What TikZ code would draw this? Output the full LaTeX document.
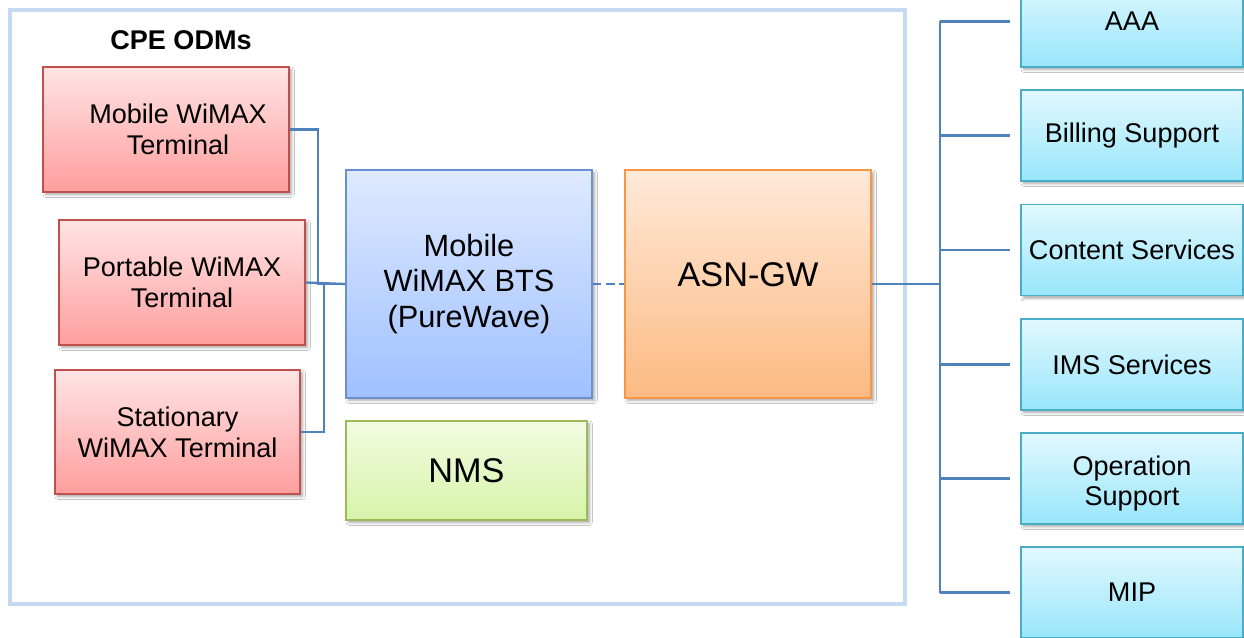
\documentclass[tikz,border=0pt]{standalone}
\usepackage{fontspec}
\setmainfont{Liberation Sans}
\usetikzlibrary{shadows.blur,positioning}

\definecolor{FrameBlue}{RGB}{198,217,240}
\definecolor{LinkBlue}{RGB}{79,129,189}
\definecolor{TermLine}{RGB}{192,80,77}
\definecolor{BtsLine}{RGB}{105,145,210}
\definecolor{NmsLine}{RGB}{155,187,89}
\definecolor{GwLine}{RGB}{247,150,70}
\definecolor{SvcLine}{RGB}{75,172,198}

\tikzset{
  basebox/.style={draw, line width=0.8pt, align=center,
    font=\fontsize{15.4}{17.5}\selectfont,
    blur shadow={shadow xshift=1.5pt, shadow yshift=-1.5pt,
      shadow blur radius=1.5pt, shadow opacity=35, shadow blur steps=5}},
  termbox/.style={basebox, TermLine, text=black,
    top color={rgb,255:red,255;green,228;blue,228},
    bottom color={rgb,255:red,255;green,158;blue,158},
    minimum width=4.92cm, minimum height=2.5cm},
  btsbox/.style={basebox, BtsLine, text=black,
    font=\fontsize{17.5}{20}\selectfont,
    top color={rgb,255:red,222;green,234;blue,255},
    bottom color={rgb,255:red,160;green,192;blue,255},
    minimum width=4.92cm, minimum height=4.56cm},
  nmsbox/.style={basebox, NmsLine, text=black,
    font=\fontsize{19.5}{22}\selectfont,
    top color={rgb,255:red,243;green,251;blue,226},
    bottom color={rgb,255:red,214;green,244;blue,168},
    minimum width=4.82cm, minimum height=1.98cm},
  gwbox/.style={basebox, GwLine, text=black,
    font=\fontsize{19.5}{22}\selectfont,
    top color={rgb,255:red,255;green,233;blue,216},
    bottom color={rgb,255:red,252;green,186;blue,130},
    minimum width=4.92cm, minimum height=4.56cm},
  svcbox/.style={basebox, SvcLine, text=black,
    top color={rgb,255:red,226;green,248;blue,255},
    bottom color={rgb,255:red,152;green,230;blue,250},
    minimum width=4.44cm, minimum height=1.82cm},
  link/.style={LinkBlue, line width=1.3pt}
}

\begin{document}
\begin{tikzpicture}[x=0.02cm, y=-0.02cm]
\clip (0,0) rectangle (1244,638);
\fill[white] (0,0) rectangle (1244,638);

% ============================
\draw[FrameBlue, line width=2.3pt] (10,10) rectangle (905,604);
\node[font=\bfseries\fontsize{15.4}{17.5}\selectfont] (cpe) at (181,40) {CPE ODMs};

% ============================
\node[termbox] (mobile) at (166,129.5) {\hspace*{0.48cm}Mobile WiMAX\\\hspace*{0.48cm}Terminal};
\node[termbox] (portable) at (182,282.5) {Portable WiMAX\\Terminal};
\node[termbox, minimum width=4.9cm, minimum height=2.48cm] (stationary) at (177.5,432) {Stationary\\WiMAX Terminal};

% ============================
\node[btsbox] (bts) at (469,284) {Mobile\\WiMAX BTS\\(PureWave)};
\node[nmsbox] (nms) at (466.5,470.5) {NMS};
\node[gwbox] (asn) at (748,284) {\raisebox{0.18cm}[\height][\depth]{ASN-GW}};

% ============================
\foreach \name/\txt/\ypos in {aaa/AAA/21.5, billing/Billing Support/135.5,
    content/Content Services/250, ims/IMS Services/364.5,
    operation/{\raisebox{-0.1cm}[\height][\depth]{\shortstack{Operation\\Support}}}/478.5, mip/MIP/592.5}
  \node[svcbox] (\name) at (1132,\ypos) {\txt};

% ============================
\coordinate (joinA) at (318,284);
\coordinate (joinB) at (324,284);
\coordinate (bus) at (940,284);

\draw[link] (mobile.east) -| (joinA) -- (bts.west);
\draw[link] (portable.east) -- (bts.west);
\draw[link] (stationary.east) -| (joinB);
\draw[link, dash pattern=on 5pt off 2.5pt] (bts.east) -- (asn.west);
\draw[link] (asn.east) -- (bus);
\draw[link, line width=1.6pt] (bus |- aaa) -- (bus |- mip);
\foreach \name in {aaa, billing, content, ims, operation, mip}
  \draw[link, shorten >=0.2cm] (bus |- \name) -- (\name.west);

\end{tikzpicture}
\end{document}
